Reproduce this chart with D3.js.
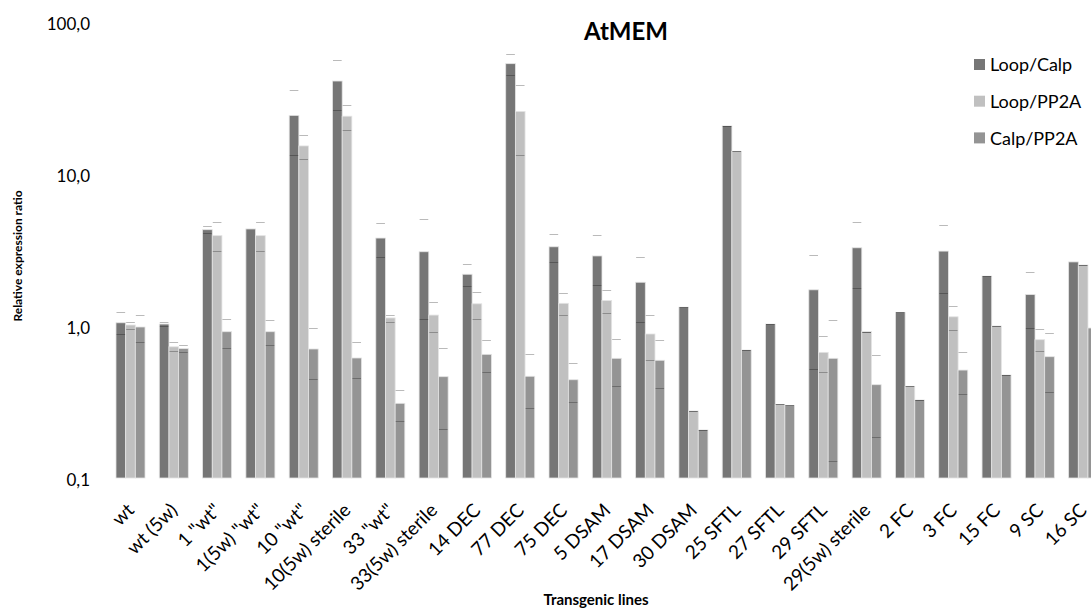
<!DOCTYPE html>
<html>
<head>
<meta charset="utf-8">
<script src="https://cdn.jsdelivr.net/npm/d3@7"></script>
<style>
  body { margin: 0; background: #fff; }
  svg { font-family: Lato, "Open Sans", sans-serif; }
  .tick text { fill: #000; }
</style>
</head>
<body>
<svg width="1091" height="614"></svg>
<script>
// Categories (transgenic lines)
var categories = ["wt", "wt (5w)", "1 \"wt\"", "1(5w) \"wt\"", "10 \"wt\"", "10(5w) sterile", "33 \"wt\"",
  "33(5w) sterile", "14 DEC", "77 DEC", "75 DEC", "5 DSAM", "17 DSAM", "30 DSAM", "25 SFTL", "27 SFTL",
  "29 SFTL", "29(5w) sterile", "2 FC", "3 FC", "15 FC", "9 SC", "16 SC"];

var seriesNames = ["Loop/Calp", "Loop/PP2A", "Calp/PP2A"];

// bar values
var loopCalp = [1.05, 1.03, 4.30, 4.35, 24.3, 40.9, 3.79, 3.08, 2.19, 53.2, 3.32, 2.89, 1.94, 1.33, 20.7, 1.03, 1.73, 3.27, 1.23, 3.11, 2.13, 1.61, 2.64];
var loopPP2A = [1.015, 0.73, 3.93, 3.93, 15.3, 24.0, 1.13, 1.18, 1.40, 25.8, 1.41, 1.47, 0.886, 0.276, 14.1, 0.305, 0.671, 0.92, 0.401, 1.15, 1.0, 0.813, 2.52];
var calpPP2A = [0.985, 0.71, 0.917, 0.917, 0.706, 0.616, 0.31, 0.464, 0.651, 0.467, 0.443, 0.613, 0.595, 0.207, 0.695, 0.30, 0.613, 0.411, 0.326, 0.513, 0.476, 0.628, 0.97];

// error bar ends (upper / lower), null = no error bar
var loopCalpHi = [1.23, 1.06, 4.53, null, 35.5, 56.0, 4.74, 5.03, 2.55, 61.3, 4.01, 3.95, 2.83, 1.33, 20.7, 1.03, 2.92, 4.81, 1.23, 4.62, 2.13, 2.27, null];
var loopCalpLo = [0.88, 0.995, 4.07, null, 13.3, 26.2, 2.83, 1.11, 1.82, 44.6, 2.62, 1.85, 1.06, 1.33, 20.7, 1.03, 0.519, 1.77, 1.23, 1.64, 2.13, 0.97, null];
var loopPP2AHi = [1.07, 0.78, 4.81, 4.81, 18.0, 28.3, 1.19, 1.43, 1.67, 38.3, 1.64, 1.72, 1.18, 0.276, 14.1, 0.305, 0.855, 0.92, 0.401, 1.35, 1.0, 0.955, 2.52];
var loopPP2ALo = [0.95, 0.68, 3.10, 3.10, 12.5, 19.5, 1.06, 0.92, 1.12, 13.3, 1.19, 1.21, 0.595, 0.276, 14.1, 0.305, 0.496, 0.92, 0.401, 0.937, 1.0, 0.68, 2.52];
var calpPP2AHi = [1.19, 0.75, 1.12, 1.09, 0.965, 0.78, 0.38, 0.72, 0.805, 0.651, 0.568, 0.817, 0.805, 0.207, 0.695, 0.30, 1.09, 0.645, 0.326, 0.671, 0.476, 0.895, null];
var calpPP2ALo = [0.78, 0.67, 0.713, 0.746, 0.446, 0.453, 0.236, 0.209, 0.496, 0.287, 0.315, 0.401, 0.389, 0.207, 0.695, 0.30, 0.129, 0.185, 0.326, 0.355, 0.476, 0.368, null];

var yTicks = [0.1, 1, 10, 100];

var colors = ["#767676", "#c0c0c0", "#949494"];

var svg = d3.select("svg");

// build rows from the arrays
var values = [loopCalp, loopPP2A, calpPP2A],
    his = [loopCalpHi, loopPP2AHi, calpPP2AHi],
    los = [loopCalpLo, loopPP2ALo, calpPP2ALo];

var data = categories.map(function(c, i) {
  return {
    cat: c,
    bars: seriesNames.map(function(s, j) {
      return {series: s, value: values[j][i], hi: his[j][i], lo: los[j][i]};
    })
  };
});

// plot extends past the right edge like the original (last group is clipped)
var x0 = d3.scaleBand().domain(categories).range([108.85, 1104.8]).paddingInner(0.33).paddingOuter(0.165),
    x1 = d3.scaleBand().domain(seriesNames).range([0, x0.bandwidth()]),
    y = d3.scaleLog().domain([0.1, 100]).range([478, 22]),
    z = d3.scaleOrdinal().domain(seriesNames).range(colors);

var fmt = d3.formatLocale({decimal: ",", thousands: ".", grouping: [3], currency: ["", ""]}).format(".1f");

// y axis (labels only, no line)
var yAxis = svg.append("g")
    .attr("transform", "translate(96,2)")
    .call(d3.axisLeft(y).tickValues(yTicks).tickFormat(fmt).tickSize(0).tickPadding(6));
yAxis.select(".domain").remove();
yAxis.selectAll("text").attr("font-size", "17px").attr("font-family", "Lato, sans-serif");

// bars
var group = svg.append("g").selectAll("g")
  .data(data)
  .enter().append("g")
    .attr("transform", function(d) { return "translate(" + x0(d.cat) + ",0)"; });

group.selectAll("rect")
  .data(function(d) { return d.bars; })
  .enter().append("rect")
    .attr("x", function(d) { return x1(d.series); })
    .attr("y", function(d) { return y(d.value); })
    .attr("width", x1.bandwidth())
    .attr("height", function(d) { return y(0.1) - y(d.value); })
    .attr("fill", function(d) { return z(d.series); })
    .attr("stroke", "#e4e4e4")
    .attr("stroke-width", 0.8);

// error bar caps
var capW = x1.bandwidth() - 1;
group.selectAll(".cap")
  .data(function(d) {
    var out = [];
    d.bars.forEach(function(b) {
      if (b.hi != null) out.push({series: b.series, v: b.hi});
      if (b.lo != null) out.push({series: b.series, v: b.lo});
    });
    return out;
  })
  .enter().append("line")
    .attr("class", "cap")
    .attr("x1", function(d) { return x1(d.series) + x1.bandwidth() / 2 - capW / 2; })
    .attr("x2", function(d) { return x1(d.series) + x1.bandwidth() / 2 + capW / 2; })
    .attr("y1", function(d) { return Math.round(y(d.v)) + 0.5; })
    .attr("y2", function(d) { return Math.round(y(d.v)) + 0.5; })
    .attr("stroke", "#000")
    .attr("stroke-opacity", 0.27)
    .attr("stroke-width", 1);

// x tick labels, rotated
svg.append("g").selectAll("text")
  .data(categories)
  .enter().append("text")
    .attr("transform", function(d) {
      return "translate(" + (x0(d) + x0.bandwidth() / 2 - 4.5) + ",502) rotate(-45)";
    })
    .attr("text-anchor", "end")
    .attr("dy", "0.7em")
    .attr("font-size", "19px")
    .text(function(d) { return d; });

// title
svg.append("text")
    .attr("x", 626)
    .attr("y", 40)
    .attr("text-anchor", "middle")
    .attr("font-size", "24px")
    .attr("font-weight", "bold")
    .text("AtMEM");

// axis titles
svg.append("text")
    .attr("x", 596)
    .attr("y", 605)
    .attr("text-anchor", "middle")
    .attr("font-size", "15px")
    .attr("font-weight", "bold")
    .text("Transgenic lines");

svg.append("text")
    .attr("transform", "translate(22,256) rotate(-90)")
    .attr("text-anchor", "middle")
    .attr("font-size", "12px")
    .attr("font-weight", "bold")
    .text("Relative expression ratio");

// legend
var legend = svg.append("g").selectAll("g")
  .data(seriesNames)
  .enter().append("g")
    .attr("transform", function(d, i) { return "translate(974," + (59 + i * 36.7) + ")"; });

legend.append("rect")
    .attr("width", 11)
    .attr("height", 11)
    .attr("fill", function(d) { return z(d); });

legend.append("text")
    .attr("x", 16)
    .attr("y", 6)
    .attr("dy", "0.35em")
    .attr("font-size", "18px")
    .text(function(d) { return d; });
</script>
</body>
</html>
